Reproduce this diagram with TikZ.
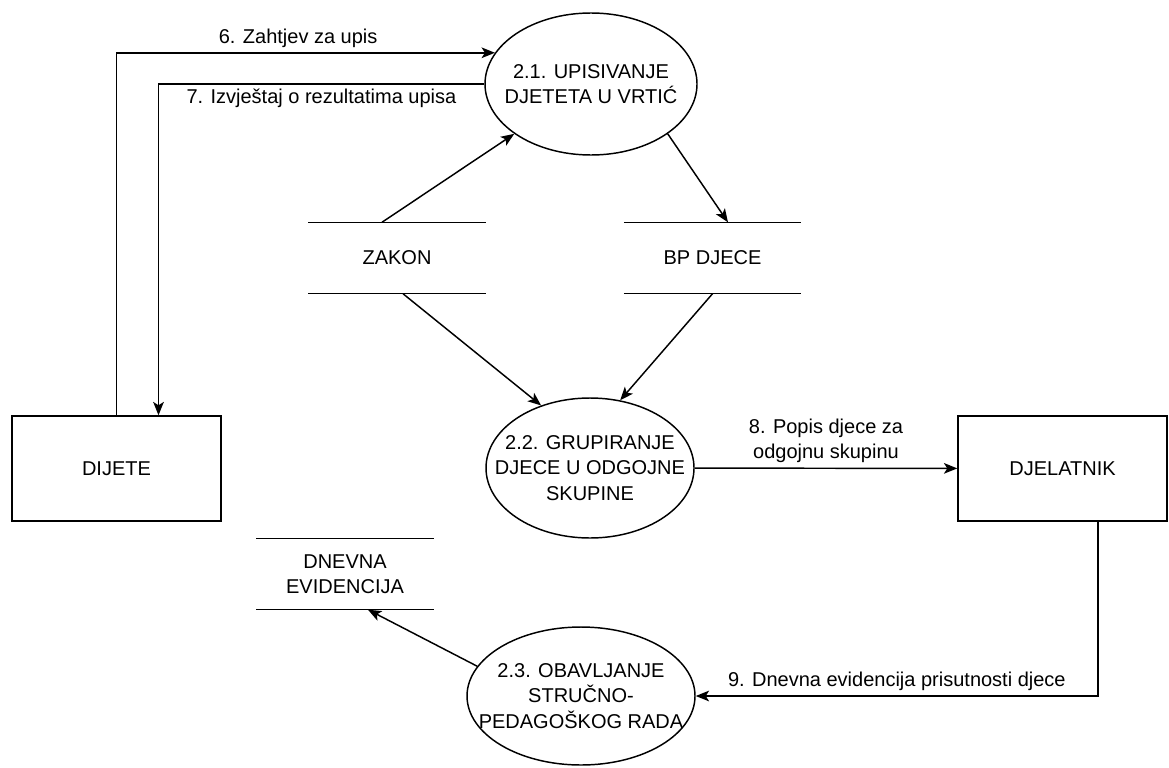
\documentclass[tikz,border=0pt]{standalone}
\usepackage{fontspec}
\setmainfont{Liberation Sans}
\usetikzlibrary{arrows.meta}
\usetikzlibrary{calc}
\usetikzlibrary{shapes}

\begin{document}
\begin{tikzpicture}[x=0.75pt, y=-0.75pt, line width=1.1pt, auto,
        font=\fontsize{15pt}{19pt}\selectfont,
        proc_style/.style={ellipse, draw, align=center, inner xsep=-25pt, inner ysep=0pt},
        ext_style/.style={rectangle, draw, minimum width=156.75pt, minimum height=78.75pt},
        store_style/.style={rectangle, minimum width=132pt, minimum height=52.5pt, align=center},
        flow_style/.style={draw, -{Stealth[length=10pt,width=8pt,inset=2.5pt]}}]

        \useasboundingbox (0,0) rectangle (1169,767);

        \node [proc_style, minimum width=159pt, minimum height=106.5pt](e1) at (591,84) {2.1. UPISIVANJE\\DJETETA U VRTIĆ};

        \node [proc_style, minimum width=156pt, minimum height=105pt](e2) at (590,468) {2.2. GRUPIRANJE\\DJECE U ODGOJNE\\SKUPINE};

        \node [proc_style, minimum width=171pt, minimum height=103.5pt](e3) at (581,696) {2.3. OBAVLJANJE\\STRUČNO-\\PEDAGOŠKOG RADA};

        \node [ext_style](d1) at (116.5,468.5) {DIJETE};

        \node [ext_style](d2) at (1062.5,468.5) {DJELATNIK};

        \node [store_style](s1) at (397,258) {ZAKON};

        \node [store_style](s2) at (712.5,258) {BP DJECE};

        \node [store_style](s3) at (345,574) {DNEVNA\\EVIDENCIJA};

        \foreach \s in {s1,s2,s3}
            \draw (\s.north west) -- (\s.north east) (\s.south west) -- (\s.south east);

        \draw [flow_style] (d1.north) |- (e1.162) node[pos=0.74, above]{6. Zahtjev za upis};

        \draw [flow_style] (e1.west) -| ([xshift=31.5pt]d1.north) node[pos=0.25, below]{7. Izvještaj o rezultatima upisa};

        \draw [flow_style] ([xshift=-11.25pt]s1.north) -- (e1.213);

        \draw [flow_style] (e1.327) -- ([xshift=11.6pt]s2.north);

        \draw [flow_style] ([xshift=4.5pt]s1.south) -- (e2.128);

        \draw [flow_style] (s2.south) -- (e2.66);

        \draw [flow_style] (e2) -- (d2) node[midway, above, align=center]{8. Popis djece za\\odgojnu skupinu};

        \draw [flow_style] ([xshift=26.6pt]d2.south) |- (e3.east) node[pos=0.75, above]{9. Dnevna evidencija prisutnosti djece};

        \draw [flow_style] (e3.164) -- ([xshift=17.25pt]s3.south);

        \end{tikzpicture}
\end{document}
